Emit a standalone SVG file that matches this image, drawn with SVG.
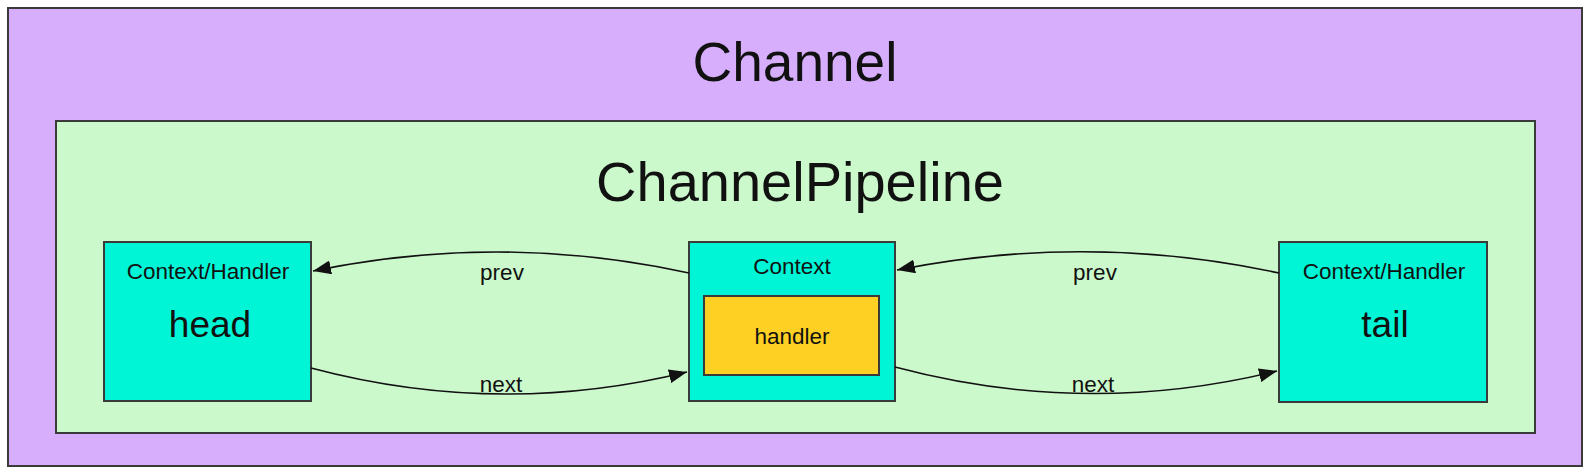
<svg xmlns="http://www.w3.org/2000/svg" width="1591" height="476" viewBox="0 0 1591 476">
<style>
text{font-family:"Liberation Sans",Arial,sans-serif;fill:#111;text-anchor:middle}
.box{stroke:#3a3a3a;stroke-width:2}
.ctx{fill:#00f5d6}
.edge{fill:none;stroke:#111;stroke-width:1.6}
.lbl{font-size:22.5px}
.big{font-size:55px}
.pipe{font-size:56px}
.name{font-size:37px}
</style>
<defs>
<marker id="arr" markerUnits="userSpaceOnUse" markerWidth="19" markerHeight="14" refX="18" refY="7" orient="auto">
<path d="M0,0 L18,7 L0,14 Z" fill="#111"/>
</marker>
</defs>
<rect width="1591" height="476" fill="#ffffff"/>
<g id="channel">
<rect class="box" x="8" y="8" width="1574" height="458" fill="#d6aefc"/>
<text class="big" x="795" y="81">Channel</text>
</g>
<g id="pipeline">
<rect class="box" x="56" y="121" width="1479" height="312" fill="#ccf9cb"/>
<text class="pipe" x="800" y="201">ChannelPipeline</text>
</g>
<g id="head">
<rect class="box ctx" x="104" y="242" width="207" height="159"/>
<text class="lbl" x="208" y="279">Context/Handler</text>
<text class="name" x="210" y="337">head</text>
</g>
<g id="context">
<rect class="box ctx" x="689" y="242" width="206" height="159"/>
<text class="lbl" x="792" y="274">Context</text>
<rect id="handler" class="box" x="704" y="296" width="175" height="79" fill="#fdd023"/>
<text class="lbl" x="792" y="344">handler</text>
</g>
<g id="tail">
<rect class="box ctx" x="1279" y="242" width="208" height="160"/>
<text class="lbl" x="1384" y="279">Context/Handler</text>
<text class="name" x="1385" y="337">tail</text>
</g>
<g id="connectors">
<path class="edge" d="M689,273 Q501,232 313,271" marker-end="url(#arr)"/>
<path class="edge" d="M311,368 Q499,418 687,372" marker-end="url(#arr)"/>
<path class="edge" d="M1279,273 Q1088,232 897,270" marker-end="url(#arr)"/>
<path class="edge" d="M895,367 Q1086,418 1277,371" marker-end="url(#arr)"/>
<text class="lbl" x="502" y="280">prev</text>
<text class="lbl" x="501" y="392">next</text>
<text class="lbl" x="1095" y="280">prev</text>
<text class="lbl" x="1093" y="392">next</text>
</g>
</svg>
